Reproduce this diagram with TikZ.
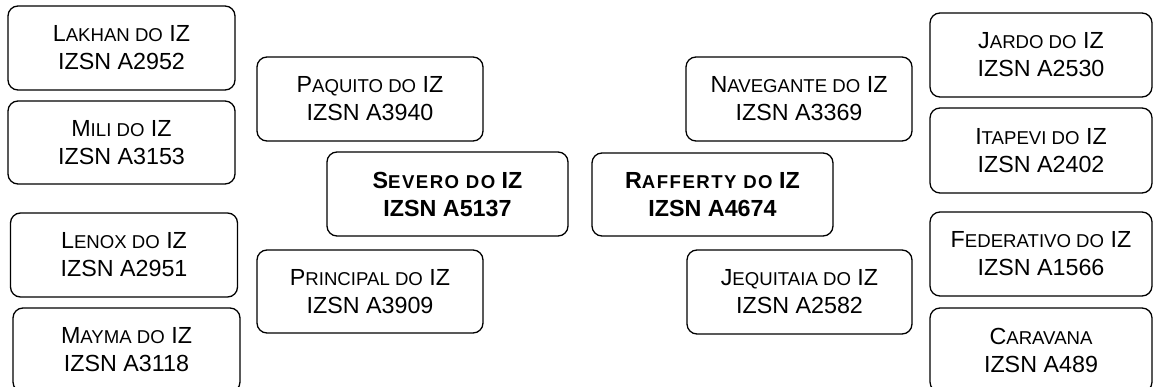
\documentclass[tikz,border=0pt]{standalone}
\usepackage{fontspec}
\setmainfont{Liberation Sans}
\newcommand\myscap[1]{{\fontsize{18.6}{28}\selectfont #1}}
\newcommand\myscapb[1]{{\fontsize{18.6}{28}\selectfont\addfontfeature{LetterSpace=8}#1}}
\tikzset{
  box/.style={draw, rounded corners=10pt, line width=1.3pt, minimum width=227pt,
    minimum height=84pt, align=center, inner sep=0pt,
    font=\fontsize{23.3}{28}\selectfont},
  center box/.style={box, minimum width=241pt, font=\fontsize{23.3}{28}\selectfont\bfseries},
}
\begin{document}
\begin{tikzpicture}[x=1pt,y=-1pt]
\useasboundingbox (0,0) rectangle (1153,387);
% left column
\node[box] (lakhan) at (121.5,48) {L\myscap{AKHAN DO} IZ\\IZSN A2952};
\node[box, minimum height=83pt] (mili) at (121.5,142.5) {M\myscap{ILI DO} IZ\\IZSN A3153};
\node[box] (lenox) at (124,255) {L\myscap{ENOX DO} IZ\\IZSN A2951};
\node[box] (mayma) at (126.5,350) {M\myscap{AYMA DO} IZ\\IZSN A3118};
% second column
\node[box, minimum width=226pt] (paquito) at (370,99) {P\myscap{AQUITO DO} IZ\\IZSN A3940};
\node[box, minimum width=226pt, minimum height=83pt] (principal) at (370,291.5) {P\myscap{RINCIPAL DO} IZ\\IZSN A3909};
% centre
\node[center box] (severo) at (447.5,194) {S\myscapb{EVERO DO} IZ\\IZSN A5137};
\node[center box, minimum height=83pt] (rafferty) at (712.5,194.5) {R\myscapb{AFFERTY DO} IZ\\IZSN A4674};
% fourth column
\node[box, minimum width=226pt] (navegante) at (799,99) {N\myscap{AVEGANTE DO} IZ\\IZSN A3369};
\node[box, minimum width=225pt] (jequitaia) at (799.5,292) {J\myscap{EQUITAIA DO} IZ\\IZSN A2582};
% right column
\node[box, minimum width=222pt] (jardo) at (1041,55) {J\myscap{ARDO DO} IZ\\IZSN A2530};
\node[box, minimum width=222pt, minimum height=85pt] (itapevi) at (1041,150.5) {I\myscap{TAPEVI DO} IZ\\IZSN A2402};
\node[box, minimum width=222pt] (federativo) at (1041,254) {F\myscap{EDERATIVO DO} IZ\\IZSN A1566};
\node[box, minimum width=222pt] (caravana) at (1041,350) {C\myscap{ARAVANA}\\IZSN A489};
\end{tikzpicture}
\end{document}
